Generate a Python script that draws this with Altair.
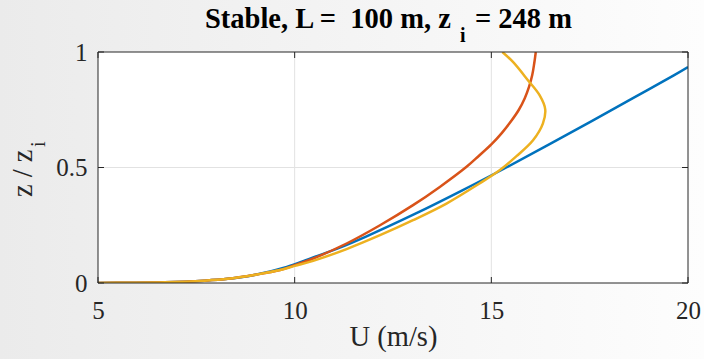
import altair as alt
import pandas as pd

# ---------------- data ----------------
X_DOMAIN = [5, 20]
Y_DOMAIN = [0, 1]
X_TICKS = [5, 10, 15, 20]
Y_TICKS = [0, 0.5, 1]
X_GRID = [10, 15]
Y_GRID = [0.5]

BLUE_U = [5.0, 5.8, 6.7, 7.7, 8.3, 9.0, 9.8, 10.3, 11.1, 11.8, 13.07, 14.25, 15.38, 16.47, 17.54, 18.6, 19.65, 20.0]
BLUE_Z = [0.0004, 0.001, 0.003, 0.01, 0.018, 0.036, 0.07, 0.1, 0.15, 0.2, 0.3, 0.4, 0.5, 0.6, 0.7, 0.8, 0.9, 0.935]

RED_U = [5.0, 5.8, 6.7, 7.7, 8.3, 9.0, 9.63, 10.0, 10.47, 11.32, 12.17, 13.01, 13.69, 14.37, 14.68, 15.0,
         15.27, 15.5, 15.7, 15.85, 15.96, 16.04, 16.09, 16.13]
RED_Z = [0.0004, 0.001, 0.003, 0.01, 0.018, 0.036, 0.056, 0.077, 0.106, 0.171, 0.25, 0.337, 0.416, 0.503, 0.55, 0.60,
         0.65, 0.70, 0.75, 0.80, 0.85, 0.90, 0.95, 1.0]

YEL_U = [5.0, 5.8, 6.7, 7.7, 8.3, 9.0, 9.63, 10.0, 10.47, 11.32, 12.17, 13.01, 13.86, 14.70, 15.21, 15.64, 16.06, 16.31, 16.37, 16.23, 15.93, 15.55, 15.28]
YEL_Z = [0.0004, 0.001, 0.003, 0.01, 0.018, 0.036, 0.056, 0.074, 0.096, 0.147, 0.207, 0.272, 0.344, 0.431, 0.488, 0.549, 0.618, 0.690, 0.752, 0.812, 0.878, 0.957, 1.0]

SERIES = [
    ("s1", "#0072BD", BLUE_U, BLUE_Z),
    ("s2", "#D95319", RED_U, RED_Z),
    ("s3", "#EDB120", YEL_U, YEL_Z),
]

TITLE_MAIN = "Stable, L = \u00a0100 m, z"
TITLE_SUB = "i"
TITLE_END = "= 248 m"
X_TITLE = "U (m/s)"
Y_TITLE_MAIN = "z / z"
Y_TITLE_SUB = "i"

# ---------------- layout / style ----------------
SERIF = "'Liberation Serif', 'Times New Roman', Times, 'DejaVu Serif', serif"
AX = "#262626"
W, H = 590, 231
PAD = {"left": 98, "top": 52, "right": 16, "bottom": 76}

xs = alt.Scale(domain=X_DOMAIN, nice=False, zero=False)
ys = alt.Scale(domain=Y_DOMAIN, nice=False, zero=False)

xaxis = alt.Axis(values=X_TICKS, format="~g", title=X_TITLE, domain=False, ticks=False, grid=False,
                 labelFont=SERIF, labelFontSize=25, labelColor=AX, labelPadding=15, labelFlush=False,
                 titleFont=SERIF, titleFontSize=28.5, titleFontWeight="normal", titleColor=AX,
                 titleBaseline="alphabetic", titleY=62, zindex=1)
yaxis = alt.Axis(values=Y_TICKS, format="~g", title=None, domain=False, ticks=False, grid=False,
                 labelFont=SERIF, labelFontSize=25, labelColor=AX, labelPadding=11, labelFlush=False,
                 zindex=1)

one = pd.DataFrame({"k": [0]})

bg = alt.Chart(one).mark_rect(
    fill=alt.LinearGradient(gradient="linear",
                            stops=[alt.GradientStop(color="#ebebeb", offset=0),
                                   alt.GradientStop(color="#fdfdfd", offset=1)],
                            x1=0, x2=1, y1=0, y2=0)
).encode(x=alt.value(-PAD["left"]), x2=alt.value(W + PAD["right"]),
         y=alt.value(-PAD["top"]), y2=alt.value(H + PAD["bottom"]))

dom = pd.DataFrame({"x0": [X_DOMAIN[0]], "x1": [X_DOMAIN[1]], "y0": [Y_DOMAIN[0]], "y1": [Y_DOMAIN[1]]})
plot_bg = alt.Chart(dom).mark_rect(fill="white").encode(
    x=alt.X("x0:Q", scale=xs, axis=xaxis), x2="x1",
    y=alt.Y("y0:Q", scale=ys, axis=yaxis), y2="y1")

gridx = alt.Chart(pd.DataFrame({"U": X_GRID})).mark_rule(color="#e2e2e2", strokeWidth=1).encode(
    x=alt.X("U:Q", scale=xs, axis=xaxis))
gridy = alt.Chart(pd.DataFrame({"z": Y_GRID})).mark_rule(color="#e2e2e2", strokeWidth=1).encode(
    y=alt.Y("z:Q", scale=ys, axis=yaxis))

lines = []
for name, col, us, zs in SERIES:
    df = pd.DataFrame({"U": us, "z": zs, "i": list(range(len(us)))})
    lines.append(alt.Chart(df).mark_line(color=col, strokeWidth=2.5, clip=True,
                                         interpolate="catmull-rom").encode(
        x=alt.X("U:Q", scale=xs, axis=xaxis),
        y=alt.Y("z:Q", scale=ys, axis=yaxis),
        order=alt.Order("i:Q")))

frame = alt.Chart(dom).mark_rect(filled=False, stroke=AX, strokeWidth=1).encode(
    x=alt.X("x0:Q", scale=xs, axis=xaxis), x2="x1",
    y=alt.Y("y0:Q", scale=ys, axis=yaxis), y2="y1")

xt = pd.DataFrame({"U": X_TICKS})
yt = pd.DataFrame({"z": Y_TICKS})
tick_b = alt.Chart(xt).mark_rule(color=AX).encode(x=alt.X("U:Q", scale=xs, axis=xaxis), y=alt.value(H), y2=alt.value(H - 6))
tick_t = alt.Chart(xt).mark_rule(color=AX).encode(x=alt.X("U:Q", scale=xs, axis=xaxis), y=alt.value(0), y2=alt.value(6))
tick_l = alt.Chart(yt).mark_rule(color=AX).encode(y=alt.Y("z:Q", scale=ys, axis=yaxis), x=alt.value(0), x2=alt.value(6))
tick_r = alt.Chart(yt).mark_rule(color=AX).encode(y=alt.Y("z:Q", scale=ys, axis=yaxis), x=alt.value(W), x2=alt.value(W - 6))

def txt(s, x, y, size, weight="normal", angle=0, color="#000000"):
    kw = dict(align="left", baseline="alphabetic", font=SERIF, fontSize=size, fontWeight=weight, color=color)
    if angle:
        kw["angle"] = angle
    return alt.Chart(one).mark_text(**kw).encode(x=alt.value(x), y=alt.value(y), text=alt.value(s))

t1 = txt(TITLE_MAIN, 107, -24, 28.5, "bold")
t2 = txt(TITLE_SUB, 362, -10, 20, "bold")
t3 = txt(TITLE_END, 377, -24, 28.5, "bold")
y1 = txt(Y_TITLE_MAIN, -66, 145, 28.5, angle=270, color=AX)
y2 = txt(Y_TITLE_SUB, -53, 95, 20, angle=270, color=AX)

chart = alt.layer(bg, plot_bg, gridx, gridy, *lines, frame, tick_b, tick_t, tick_l, tick_r,
                  t1, t2, t3, y1, y2).properties(
    width=W, height=H,
    autosize=alt.AutoSizeParams(type="none"),
    padding=PAD,
    background="#f4f4f4",
).configure_view(stroke="transparent")

chart.save("out.html", embed_options={"renderer": "svg", "actions": False})
